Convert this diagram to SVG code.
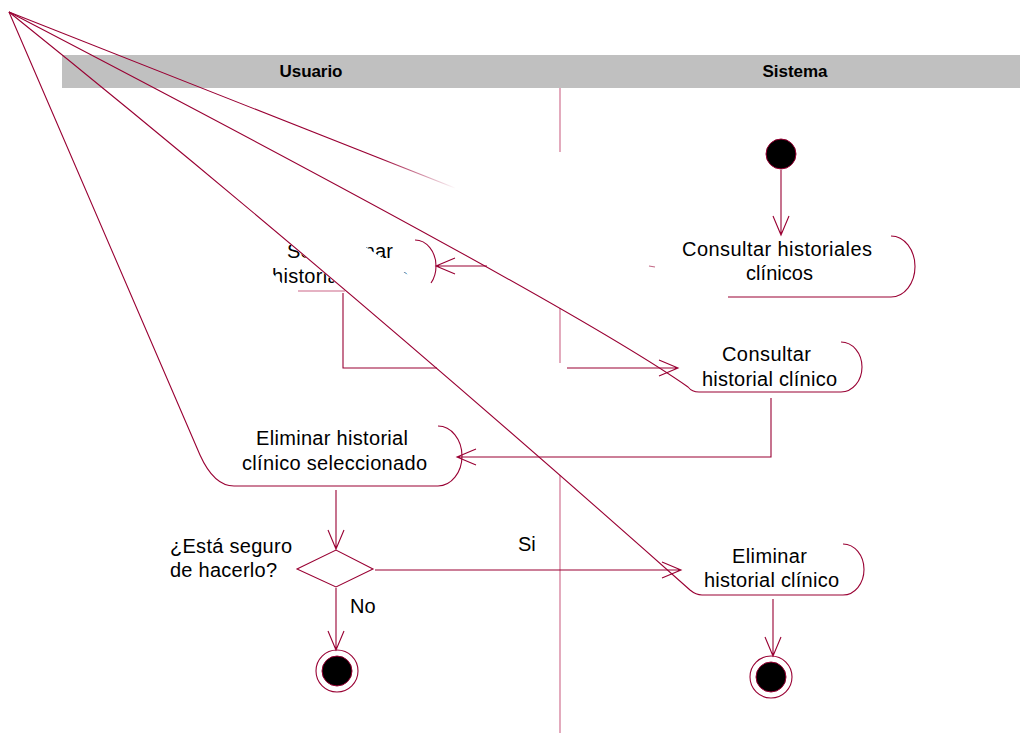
<svg xmlns="http://www.w3.org/2000/svg" width="1020" height="733" viewBox="0 0 1020 733">
<style>
.ln{fill:none;stroke:#990033;stroke-width:1.1}
.lt{fill:none;stroke:#cc6688;stroke-width:1.1}
.t{font-family:"Liberation Sans",Arial,sans-serif;font-size:20px;fill:#000}
.tm{text-anchor:middle}
.h{font-family:"Liberation Sans",Arial,sans-serif;font-size:17px;font-weight:bold;fill:#000;text-anchor:middle}
</style>
<defs>
<linearGradient id="fade" gradientUnits="userSpaceOnUse" x1="380" y1="0" x2="456" y2="0">
<stop offset="0" stop-color="#990033" stop-opacity="1"/>
<stop offset="1" stop-color="#990033" stop-opacity="0"/>
</linearGradient>
<clipPath id="selclip">
<polygon points="231,230 273,230 356,300 298,300"/>
<polygon points="340,230 520,230 520,300 446,300"/>
</clipPath>
</defs>
<rect width="1020" height="733" fill="#fff"/>
<g id="header">
<rect x="62" y="55" width="958" height="33" fill="#c0c0c0"/>
<text class="h" x="311" y="77" textLength="63">Usuario</text>
<text class="h" x="795" y="77" textLength="65">Sistema</text>
</g>
<g id="lane-divider">
<path class="lt" d="M560,88V152M560,308V363M560,475V733"/>
</g>
<g id="node-consultar-historiales">
<path d="M9,12L455,188" fill="none" stroke="url(#fade)" stroke-width="1.1"/>
<path class="ln" d="M891,236A24,30.5 0 0 1 891,297L728,297"/>
<text class="t tm" x="777" y="256" textLength="190">Consultar historiales</text>
<text class="t tm" x="779.5" y="280" textLength="67">clínicos</text>
</g>
<g id="node-seleccionar">
<path class="ln" d="M415,240A21,26 0 0 1 436,266A21,26 0 0 1 431,283"/>
<path class="lt" d="M298,291H345"/>
<g clip-path="url(#selclip)">
<text class="t tm" x="340" y="258" textLength="106">Seleccionar</text>
<text class="t tm" x="340" y="283" textLength="136">historial clínico</text>
</g>
</g>
<g id="node-consultar-historial">
<path class="ln" d="M9,12Q568,303 688,387Q692,392 699,392L841,392A21,25 0 0 0 841,342" />
<text class="t tm" x="766.5" y="361" textLength="89">Consultar</text>
<text class="t tm" x="769.5" y="386" textLength="135">historial clínico</text>
</g>
<g id="node-eliminar-seleccionado">
<path class="ln" d="M9,12L200,455Q214,486 234,486L438,486A24,30 0 0 0 438,426"/>
<text class="t tm" x="332" y="445" textLength="152">Eliminar historial</text>
<text class="t tm" x="334.5" y="470" textLength="185">clínico seleccionado</text>
</g>
<g id="node-eliminar">
<path class="ln" d="M9,12Q330,270 690,590Q696,595 702,595L843,595A21,25.5 0 0 0 843,544"/>
<text class="t tm" x="769.5" y="563" textLength="75">Eliminar</text>
<text class="t tm" x="771.5" y="587" textLength="135">historial clínico</text>
</g>
<g id="node-inicio">
<circle cx="781" cy="154" r="15" fill="#000" stroke="#990033" stroke-width="1"/>
</g>
<g id="node-decision">
<path class="ln" d="M297,569L336,550L373,569L336,587Z" fill="#fff"/>
<text class="t" x="170" y="553" textLength="122">¿Está seguro</text>
<text class="t" x="170" y="577" textLength="107">de hacerlo?</text>
</g>
<g id="node-fin-usuario">
<circle cx="337" cy="671" r="21" fill="#fff" stroke="#990033" stroke-width="1.1"/>
<circle cx="337" cy="671" r="15" fill="#000" stroke="#990033" stroke-width="1"/>
</g>
<g id="node-fin-sistema">
<circle cx="771" cy="677" r="21" fill="#fff" stroke="#990033" stroke-width="1.1"/>
<circle cx="771" cy="677" r="15" fill="#000" stroke="#990033" stroke-width="1"/>
</g>
<g id="connectors">
<path class="ln" d="M781,170V235M773,216L781,235L789,216"/>
<path class="ln" d="M487,266H436M455,258L436,266L455,274"/>
<path class="ln" d="M649,266L655,267" opacity="0.6"/>
<path class="ln" d="M343,293V368H437M567,368H678M659,360L678,368L659,376"/>
<path class="ln" d="M771,398V457H457M476,449L457,457L476,465"/>
<path class="ln" d="M336,490V549M328,530L336,549L344,530"/>
<path class="ln" d="M375,570H681M662,562L681,570L662,578"/>
<path class="ln" d="M336,588V650M328,631L336,650L344,631"/>
<path class="ln" d="M773,599V656M765,637L773,656L781,637"/>
<text class="t" x="518" y="551">Si</text>
<text class="t" x="350" y="613">No</text>
</g>
</svg>
